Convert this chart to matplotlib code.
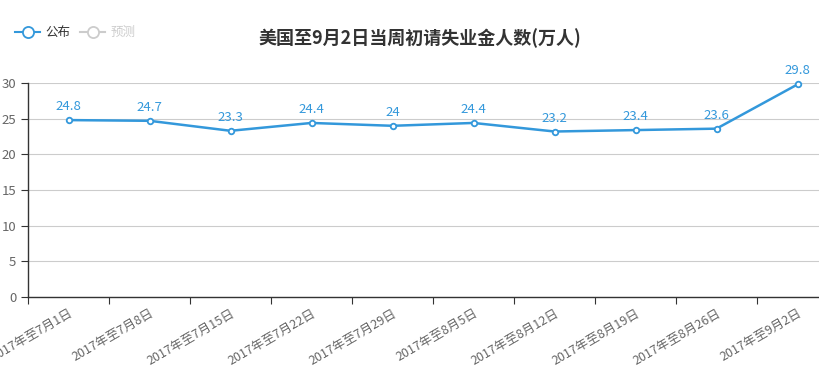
import matplotlib
matplotlib.use("Agg")
import matplotlib.pyplot as plt
from matplotlib.lines import Line2D

plt.rcParams['font.family'] = ['Noto Sans CJK SC', 'DejaVu Sans']

categories = ["2017年至7月1日", "2017年至7月8日", "2017年至7月15日", "2017年至7月22日",
              "2017年至7月29日", "2017年至8月5日", "2017年至8月12日", "2017年至8月19日",
              "2017年至8月26日", "2017年至9月2日"]
published = [24.8, 24.7, 23.3, 24.4, 24, 24.4, 23.2, 23.4, 23.6, 29.8]
value_labels = ["24.8", "24.7", "23.3", "24.4", "24", "24.4", "23.2", "23.4", "23.6", "29.8"]
yticks = [0, 5, 10, 15, 20, 25, 30]

BLUE = "#3398db"

fig = plt.figure(figsize=(8.19, 3.69), dpi=100)
ax = fig.add_axes([28 / 819, 72 / 369, 810 / 819, 214 / 369])

x = list(range(len(categories)))
ax.plot(x, published, color=BLUE, lw=1.8, marker="o", ms=4,
        mfc="white", mec=BLUE, mew=1.3, zorder=3, clip_on=False)
for xi, yi, s in zip(x, published, value_labels):
    ax.annotate(s, (xi, yi), xytext=(0, 5), textcoords="offset points",
                ha="center", va="bottom", color=BLUE, fontsize=9.5)

ax.set_xlim(-0.5, len(categories) - 0.5)
ax.set_ylim(0, 30)
ax.set_yticks(yticks)
ax.set_yticklabels([str(t) for t in yticks])
ax.grid(axis="y", color="#cccccc", lw=0.8)
ax.set_axisbelow(True)

ax.set_xticks([i - 0.5 for i in range(len(categories) + 1)], minor=False)
ax.set_xticklabels([""] * (len(categories) + 1))
ax.set_xticks(x, minor=True)
ax.set_xticklabels(categories, minor=True, rotation=30, ha="right",
                   rotation_mode="anchor", fontsize=9, color="#666666")
ax.tick_params(axis="x", which="minor", length=0, pad=7)
ax.tick_params(axis="x", which="major", length=5, color="#333333", direction="out")
ax.tick_params(axis="y", length=5, color="#333333", labelsize=9.5, labelcolor="#666666")

for side in ["top", "right"]:
    ax.spines[side].set_visible(False)
for side in ["left", "bottom"]:
    ax.spines[side].set_color("#333333")
    ax.spines[side].set_linewidth(1)

fig.text(0.513, 0.897, "美国至9月2日当周初请失业金人数(万人)", ha="center", va="center",
         fontsize=13, fontweight="bold", color="#333333")

handles = [
    Line2D([0], [0], color=BLUE, lw=1.5, marker="o", ms=8, mfc="white", mec=BLUE, mew=1.3),
    Line2D([0], [0], color="#cccccc", lw=1.5, marker="o", ms=8, mfc="white", mec="#cccccc", mew=1.3),
]
leg = fig.legend(handles, ["公布", "预测"], loc="center left", bbox_to_anchor=(0.005, 0.912),
                 ncol=2, frameon=False, fontsize=9, handlelength=2.0, handletextpad=0.4,
                 columnspacing=0.8)
leg.get_texts()[0].set_color("#333333")
leg.get_texts()[1].set_color("#cccccc")

fig.savefig("out.png", dpi=100)
